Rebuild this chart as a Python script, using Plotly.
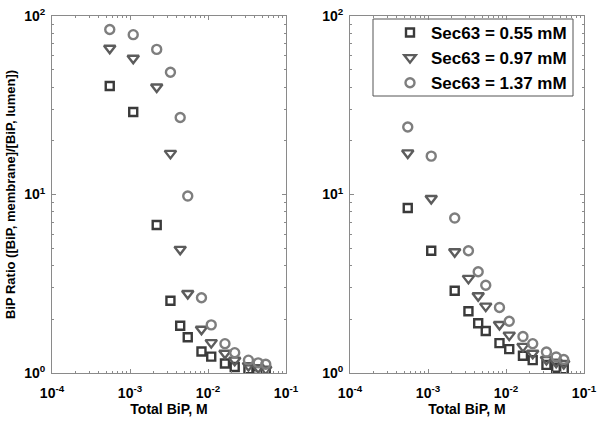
import plotly.graph_objects as go

# Total BiP concentrations (mM) -> M
total_bip_mM = [0.55, 1.1, 2.2, 3.3, 4.4, 5.5, 8.25, 11, 16.5, 22, 33, 44, 55]
total_bip = [v * 1e-3 for v in total_bip_mM]

# Left panel ratios
left_055 = [40.5, 29, 6.75, 2.54, 1.84, 1.585, 1.32, 1.235, 1.13, 1.08, 1.05, 1.03, 1.02]
left_097 = [66, 58, 40, 17, 4.93, 2.79, 1.76, 1.48, 1.29, 1.18, 1.10, 1.07, 1.05]
left_137 = [84, 78.6, 65, 48.4, 27, 9.8, 2.64, 1.86, 1.46, 1.30, 1.18, 1.14, 1.12]

# Right panel ratios
right_055 = [8.4, 4.84, 2.89, 2.22, 1.90, 1.72, 1.47, 1.36, 1.25, 1.18, 1.11, 1.07, 1.05]
right_097 = [17.1, 9.5, 4.78, 3.39, 2.71, 2.37, 1.87, 1.63, 1.41, 1.29, 1.19, 1.15, 1.13]
right_137 = [23.9, 16.4, 7.38, 4.84, 3.69, 3.10, 2.33, 1.95, 1.60, 1.46, 1.31, 1.23, 1.19]

series_names = ["Sec63 = 0.55 mM", "Sec63 = 0.97 mM", "Sec63 = 1.37 mM"]

# Tick values / labels
x_tick_vals = [1e-4, 1e-3, 1e-2, 1e-1]
x_tick_labels = ["10<sup>-4</sup>", "10<sup>-3</sup>", "10<sup>-2</sup>", "10<sup>-1</sup>"]
y_tick_vals = [1, 10, 100]
y_tick_labels = ["10<sup>0</sup>", "10<sup>1</sup>", "10<sup>2</sup>"]
x_minor_vals = [m * 10.0 ** e for e in (-4, -3, -2) for m in range(2, 10)]
y_minor_vals = [m * 10.0 ** e for e in (0, 1) for m in range(2, 10)]

symbols = ["square-open", "triangle-down-open", "circle-open"]
colors = ["#3a3a3a", "#5c5c5c", "#7e7e7e"]
sizes = [8, 10, 9]

FONT = "Liberation Sans, Arial, sans-serif"
W, H = 602, 422
L, T = 52, 16
R = W - 584
B = H - 373
pw = W - L - R
ph = H - T - B


def px(xr):
    return (xr - L) / pw


def py(yr):
    return 1 - (yr - T) / ph


fig = go.Figure()
left_sets = [left_055, left_097, left_137]
right_sets = [right_055, right_097, right_137]
for i in range(3):
    fig.add_trace(go.Scatter(
        x=total_bip, y=left_sets[i], mode="markers", name="<b>" + series_names[i] + "</b>",
        marker=dict(symbol=symbols[i], size=sizes[i], color=colors[i],
                    line=dict(width=2.4, color=colors[i])),
        xaxis="x", yaxis="y", showlegend=False))
for i in range(3):
    fig.add_trace(go.Scatter(
        x=total_bip, y=right_sets[i], mode="markers", name="<b>" + series_names[i] + "</b>",
        legendgroup=str(i),
        marker=dict(symbol=symbols[i], size=sizes[i], color=colors[i],
                    line=dict(width=2.4, color=colors[i])),
        xaxis="x2", yaxis="y2", showlegend=True))

axis_font = dict(family=FONT, size=14, color="black")
common_x = dict(type="log", range=[-4, -1], tickmode="array",
                tickvals=x_tick_vals, ticktext=["<b>" + t + "</b>" for t in x_tick_labels],
                showgrid=False, zeroline=False, showline=True, linecolor="#8a8a8a",
                linewidth=1, mirror="allticks", ticks="inside", ticklen=4,
                tickcolor="#8a8a8a", tickfont=axis_font, automargin=False,
                ticklabelstandoff=7, ticklabeloverflow="allow",
                minor=dict(ticks="inside", ticklen=2, tickcolor="#8a8a8a", showgrid=False,
                           tickmode="array", tickvals=x_minor_vals),
                title=dict(text="<b>Total BiP, M</b>", font=axis_font, standoff=0))
common_y = dict(type="log", range=[0, 2], tickmode="array",
                tickvals=y_tick_vals, ticktext=["<b>" + t + "</b>" for t in y_tick_labels],
                showgrid=False, zeroline=False, showline=True, linecolor="#8a8a8a",
                linewidth=1, mirror="allticks", ticks="inside", ticklen=4,
                tickcolor="#8a8a8a", tickfont=axis_font, automargin=False,
                ticklabelstandoff=3, ticklabeloverflow="allow",
                minor=dict(ticks="inside", ticklen=2, tickcolor="#8a8a8a", showgrid=False,
                           tickmode="array", tickvals=y_minor_vals))

fig.update_layout(
    width=W, height=H,
    margin=dict(l=L, r=R, t=T, b=B, autoexpand=False),
    paper_bgcolor="white", plot_bgcolor="white",
    font=dict(family=FONT, color="black"),
    xaxis=dict(common_x, domain=[0, px(286)], anchor="y"),
    yaxis=dict(common_y, domain=[0, 1], anchor="x",
               title=dict(text="<b>BiP Ratio ([BiP, membrane]/[BiP, lumen])</b>",
                          font=dict(family=FONT, size=13, color="black"),
                          standoff=5)),
    xaxis2=dict(common_x, domain=[px(350), 1], anchor="y2"),
    yaxis2=dict(common_y, domain=[0, 1], anchor="x2"),
    showlegend=True,
    legend=dict(x=px(389), y=py(15), xanchor="left", yanchor="top",
                bgcolor="rgba(0,0,0,0)", borderwidth=0,
                font=dict(family=FONT, size=17, color="black"),
                tracegroupgap=0, itemwidth=32),
    shapes=[dict(type="rect", xref="paper", yref="paper",
                 x0=px(373), x1=px(573), y0=py(96), y1=py(19),
                 line=dict(color="#555555", width=1), fillcolor="white", layer="below")],
)

fig.write_html("out.html", config={"displayModeBar": False},
               post_script="document.body.style.margin='0';document.body.style.overflow='hidden';")
